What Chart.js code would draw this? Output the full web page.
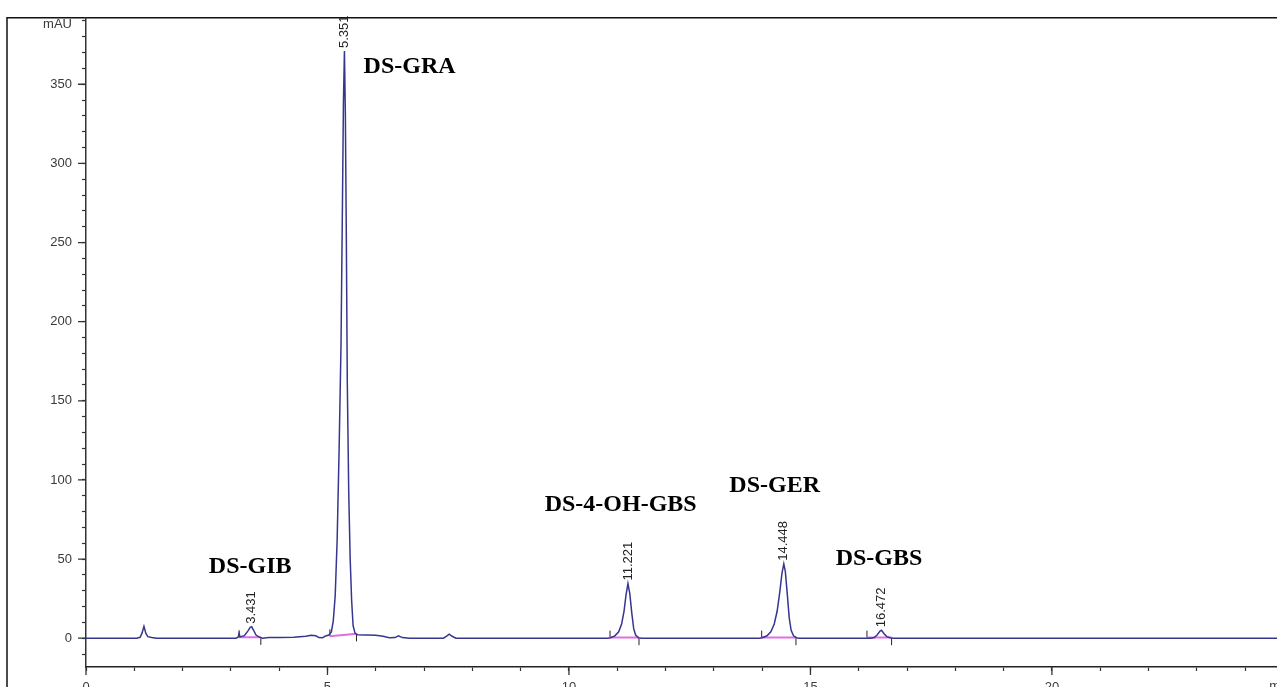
<!DOCTYPE html>
<html>
<head>
<meta charset="utf-8">
<script src="https://cdn.jsdelivr.net/npm/chart.js@4"></script>
<style>
  html, body { margin: 0; padding: 0; background: #fff; overflow: hidden; }
  canvas { display: block; }
</style>
</head>
<body>
<canvas id="chrom" width="1282" height="700"></canvas>
<script>
// detector trace (min, mAU)
const traceTime = [
    0, 1.05, 1.12, 1.16, 1.20, 1.24, 1.28, 1.36, 1.46,
    3.10, 3.15, 3.17, 3.19, 3.28, 3.35, 3.40, 3.431, 3.47, 3.52, 3.58, 3.66,
    3.78, 4.00, 4.30, 4.55, 4.66, 4.76, 4.82, 4.90, 4.96, 5.03,
    5.08, 5.12, 5.16, 5.20, 5.24, 5.28, 5.31, 5.33, 5.351, 5.37, 5.39, 5.41, 5.44, 5.47, 5.50, 5.53, 5.57,
    5.62, 5.80, 6.00, 6.15, 6.28, 6.40, 6.47, 6.55, 6.70,
    7.40, 7.46, 7.52, 7.58, 7.66,
    10.80, 10.86, 10.95, 11.03, 11.09, 11.14, 11.18, 11.221, 11.26, 11.30, 11.34, 11.38, 11.44, 11.50,
    13.95, 14.00, 14.10, 14.18, 14.25, 14.31, 14.36, 14.41, 14.448, 14.48, 14.52, 14.56, 14.60, 14.65, 14.71, 14.76,
    16.25, 16.32, 16.38, 16.44, 16.472, 16.52, 16.58, 16.65, 16.72,
    24.76,
];
const traceMAU = [
    0, 0, 0.6, 3.2, 7.5, 3.0, 1.0, 0.5, 0,
    0, 0.6, 3.0, 0.8, 1.6, 4.5, 6.8, 7.2, 5.0, 2.0, 0.8, 0,
    0.4, 0.5, 0.6, 1.2, 1.8, 1.5, 0.4, 0.3, 1.4, 2.0,
    4, 11, 27, 62, 118, 185, 275, 338, 371, 332, 255, 162, 92, 50, 24, 8, 3.2,
    2.2, 2.0, 1.8, 1.2, 0.3, 0.4, 1.5, 0.4, 0,
    0, 1.2, 2.6, 1.2, 0,
    0, 0.3, 1.5, 4, 9, 17, 27, 34.5, 28, 16, 6, 2, 0.3, 0,
    0, 0.3, 1.5, 4, 9, 17, 28, 41, 47, 42, 28, 13, 5, 1.5, 0.3, 0,
    0, 0.4, 2, 4.5, 5, 3, 1, 0.3, 0,
    0,
];

// labelled peaks
const peakTimes = [3.431, 5.351, 11.221, 14.448, 16.472];
const peakLabels = ['3.431', '5.351', '11.221', '14.448', '16.472'];
const compoundNames = ['DS-GIB', 'DS-GRA', 'DS-4-OH-GBS', 'DS-GER', 'DS-GBS'];

// integration baselines (start/end time and level)
const integStart = [3.17, 5.05, 10.85, 13.99, 16.17];
const integEnd = [3.62, 5.60, 11.45, 14.70, 16.68];
const integStartMAU = [0.6, 1.2, 0.4, 0.4, 0.4];
const integEndMAU = [0.6, 2.8, 0.4, 0.4, 0.4];

// axis ticks
const xMajor = 5;
const yMajor = 50;

const trace = traceTime.map((t, i) => ({ x: t, y: traceMAU[i] }));

const baseline = [];
integStart.forEach((t, i) => {
    baseline.push({ x: t, y: integStartMAU[i] });
    baseline.push({ x: integEnd[i], y: integEndMAU[i] });
    baseline.push({ x: integEnd[i], y: null });
});
const startMarks = integStart.map((t, i) => ({ x: t, y: integStartMAU[i] + 2.2 }));
const endMarks = integEnd.map((t, i) => ({ x: t, y: integEndMAU[i] - 2.6 }));

// where the compound names sit (min, mAU of the text centre)
const namePlace = [[3.40, 45], [6.70, 361], [11.07, 84], [14.26, 96], [16.42, 50]];

const chromPlugin = {
    id: 'chrom',
    beforeDraw(chart) {
        const { ctx, chartArea } = chart;
        ctx.save();
        ctx.fillStyle = '#fff';
        ctx.fillRect(0, 0, chart.width, chart.height);
        ctx.strokeStyle = '#111';
        ctx.lineWidth = 1.5;
        ctx.beginPath();
        ctx.moveTo(7, chart.height);
        ctx.lineTo(7, chartArea.top);
        ctx.lineTo(chart.width, chartArea.top);
        ctx.stroke();
        ctx.restore();
    },
    afterDraw(chart) {
        const { ctx, chartArea } = chart;
        const xs = chart.scales.x, ys = chart.scales.y;
        ctx.save();

        // longer major ticks
        ctx.strokeStyle = '#333';
        ctx.lineWidth = 1.3;
        ctx.beginPath();
        ys.ticks.forEach((t, i) => {
            if (t.value % yMajor === 0) {
                const py = ys.getPixelForTick(i);
                ctx.moveTo(chartArea.left - 8, py);
                ctx.lineTo(chartArea.left, py);
            }
        });
        xs.ticks.forEach((t, i) => {
            if (t.value % xMajor === 0) {
                const px = xs.getPixelForTick(i);
                ctx.moveTo(px, chartArea.bottom);
                ctx.lineTo(px, chartArea.bottom + 8);
            }
        });
        ctx.stroke();

        // unit labels
        ctx.fillStyle = '#3a3a3a';
        ctx.font = '13px "Liberation Sans", Arial, sans-serif';
        ctx.textAlign = 'right';
        ctx.textBaseline = 'middle';
        ctx.fillText('mAU', chartArea.left - 14, chartArea.top + 7);
        ctx.textAlign = 'left';
        ctx.textBaseline = 'top';
        ctx.fillText('min', xs.getPixelForValue(24.5), chartArea.bottom + 13);

        // retention times, rotated
        ctx.fillStyle = '#222';
        peakTimes.forEach((rt, i) => {
            const k = traceTime.indexOf(rt);
            const px = xs.getPixelForValue(rt);
            const py = ys.getPixelForValue(traceMAU[k]) - 3;
            ctx.save();
            ctx.translate(px, py);
            ctx.rotate(-Math.PI / 2);
            ctx.textAlign = 'left';
            ctx.textBaseline = 'middle';
            ctx.fillText(peakLabels[i], 0, 0);
            ctx.restore();
        });

        // compound names
        ctx.fillStyle = '#000';
        ctx.font = 'bold 24px "Liberation Serif", "Times New Roman", serif';
        ctx.textAlign = 'center';
        ctx.textBaseline = 'middle';
        compoundNames.forEach((name, i) => {
            const [t, v] = namePlace[i];
            ctx.fillText(name, xs.getPixelForValue(t), ys.getPixelForValue(v));
        });
        ctx.restore();
    },
};

const tickFont = { family: '"Liberation Sans", Arial, sans-serif', size: 13 };

new Chart(document.getElementById('chrom'), {
    type: 'scatter',
    data: {
        datasets: [
            {
                label: 'Signal',
                data: trace,
                showLine: true,
                borderColor: '#36368f',
                borderWidth: 1.5,
                pointRadius: 0,
                tension: 0,
            },
            {
                label: 'Baseline',
                data: baseline,
                showLine: true,
                spanGaps: false,
                borderColor: '#e070e0',
                borderWidth: 2,
                pointRadius: 0,
            },
            {
                label: 'Start',
                data: startMarks,
                pointStyle: 'line',
                rotation: 90,
                radius: 3.5,
                borderColor: '#222',
                borderWidth: 1,
            },
            {
                label: 'End',
                data: endMarks,
                pointStyle: 'line',
                rotation: 90,
                radius: 3.5,
                borderColor: '#222',
                borderWidth: 1,
            },
        ],
    },
    options: {
        responsive: false,
        animation: false,
        layout: { padding: { top: 13, left: 0, right: 0, bottom: 0 } },
        plugins: {
            legend: { display: false },
            tooltip: { enabled: false },
        },
        scales: {
            x: {
                type: 'linear',
                min: 0,
                max: 24.66,
                afterFit: s => { s.height = 33; },
                border: { display: true, color: '#222', width: 1.5 },
                grid: { display: true, drawOnChartArea: false, drawTicks: true, tickLength: 4, tickColor: '#333', tickWidth: 1.2 },
                ticks: {
                    stepSize: 1,
                    includeBounds: false,
                    autoSkip: false,
                    maxRotation: 0,
                    padding: 9,
                    color: '#3a3a3a',
                    font: tickFont,
                    callback: v => (v % xMajor === 0 ? v : ''),
                },
            },
            y: {
                min: -18.2,
                max: 392,
                afterFit: s => { s.width = 86; },
                border: { display: true, color: '#333', width: 1.5 },
                grid: { display: true, drawOnChartArea: false, drawTicks: true, tickLength: 4, tickColor: '#333', tickWidth: 1.2 },
                ticks: {
                    stepSize: 10,
                    includeBounds: false,
                    autoSkip: false,
                    padding: 10,
                    color: '#3a3a3a',
                    font: tickFont,
                    callback: v => (v % yMajor === 0 ? v : ''),
                },
            },
        },
    },
    plugins: [chromPlugin],
});
</script>
</body>
</html>
